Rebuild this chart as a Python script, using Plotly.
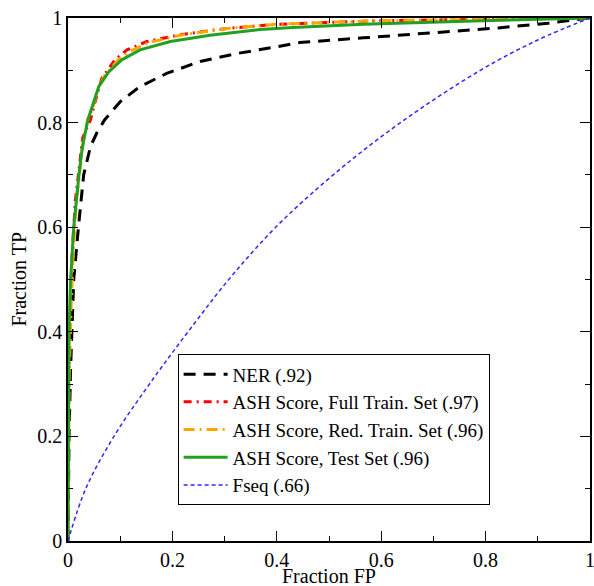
import plotly.graph_objects as go

# ---- data ----
ner_x = [0, 0.002, 0.005, 0.007, 0.011, 0.02, 0.03, 0.043, 0.055, 0.07, 0.1, 0.138, 0.189, 0.253, 0.323, 0.40, 0.444, 0.566, 0.695, 0.824, 0.92, 1.0]
ner_y = [0, 0.2, 0.33, 0.4, 0.5, 0.6, 0.7, 0.754, 0.78, 0.805, 0.84, 0.869, 0.894, 0.917, 0.932, 0.945, 0.953, 0.962, 0.972, 0.981, 0.99, 1.0]

full_x = [0, 0.001, 0.004, 0.008, 0.014, 0.022, 0.028, 0.036, 0.043, 0.052, 0.065, 0.09, 0.113, 0.151, 0.215, 0.304, 0.40, 0.6, 0.8, 1.0]
full_y = [0, 0.3, 0.45, 0.55, 0.65, 0.72, 0.77, 0.79, 0.805, 0.84, 0.885, 0.92, 0.939, 0.955, 0.968, 0.98, 0.988, 0.995, 0.998, 1.0]

red_x = [0, 0.002, 0.006, 0.01, 0.016, 0.024, 0.03, 0.039, 0.046, 0.055, 0.069, 0.096, 0.12, 0.155, 0.215, 0.304, 0.40, 0.6, 0.8, 1.0]
red_y = [0, 0.3, 0.45, 0.55, 0.65, 0.72, 0.77, 0.81, 0.824, 0.856, 0.888, 0.92, 0.937, 0.953, 0.967, 0.98, 0.988, 0.995, 0.998, 1.0]

test_x = [0, 0.0005, 0.002, 0.005, 0.011, 0.021, 0.027, 0.038, 0.048, 0.059, 0.078, 0.103, 0.138, 0.196, 0.272, 0.368, 0.431, 0.566, 0.76, 1.0]
test_y = [0, 0.25, 0.4, 0.5, 0.6, 0.7, 0.75, 0.805, 0.837, 0.869, 0.897, 0.92, 0.939, 0.955, 0.967, 0.978, 0.982, 0.988, 0.994, 1.0]

fseq_x = [0, 0.034, 0.088, 0.156, 0.23, 0.308, 0.398, 0.508, 0.637, 0.79, 0.9, 1.0]
fseq_y = [0, 0.1, 0.2, 0.3, 0.4, 0.5, 0.6, 0.7, 0.8, 0.9, 0.958, 1.0]

names = ["NER (.92)", "ASH Score, Full Train. Set (.97)", "ASH Score, Red. Train. Set (.96)",
         "ASH Score, Test Set (.96)", "Fseq (.66)"]

tick_vals = [0, 0.2, 0.4, 0.6, 0.8, 1.0]
tick_text = ["0", "0.2", "0.4", "0.6", "0.8", "1"]

x_title = "Fraction FP"
y_title = "Fraction TP"

FONT = "Liberation Serif, Times New Roman, serif"

fig = go.Figure()
fig.add_trace(go.Scatter(x=ner_x, y=ner_y, mode="lines", name=names[0],
                         line=dict(color="black", width=3, dash="12px,8px")))
fig.add_trace(go.Scatter(x=full_x, y=full_y, mode="lines", name=names[1],
                         line=dict(color="#ff0000", width=3, dash="8px,5px,2px,5px")))
fig.add_trace(go.Scatter(x=red_x, y=red_y, mode="lines", name=names[2],
                         line=dict(color="#ffa500", width=3, dash="11px,5px,2px,5px")))
fig.add_trace(go.Scatter(x=test_x, y=test_y, mode="lines", name=names[3],
                         line=dict(color="#22a022", width=3)))
fig.add_trace(go.Scatter(x=fseq_x, y=fseq_y, mode="lines", name=names[4], line_shape="spline",
                         line=dict(color="#2a2aff", width=1.5, dash="4px,3px")))

axis_common = dict(
    range=[0, 1], showgrid=False, zeroline=False, automargin=False,
    showline=True, linecolor="black", linewidth=1.5, mirror="ticks",
    ticks="inside", ticklen=10, tickwidth=1.3, tickcolor="black",
    tickvals=tick_vals, ticktext=tick_text, ticklabeloverflow="allow",
    minor=dict(ticks="inside", ticklen=5, tickwidth=1.2, tickcolor="black", dtick=0.1, showgrid=False),
    tickfont=dict(family=FONT, size=20, color="black"),
)

fig.update_xaxes(**axis_common)
fig.update_yaxes(**axis_common)

fig.update_layout(
    width=594, height=586,
    margin=dict(l=68, r=4, t=18, b=45),
    paper_bgcolor="white", plot_bgcolor="white",
    legend=dict(x=0.21, y=0.357, xanchor="left", yanchor="top",
                bgcolor="white", bordercolor="black", borderwidth=1,
                font=dict(family=FONT, size=19, color="black"),
                tracegroupgap=0, itemwidth=44),
    showlegend=True,
    annotations=[
        dict(text=x_title, xref="paper", yref="paper", x=0.5, y=-0.066,
             xanchor="center", yanchor="middle", showarrow=False,
             font=dict(family=FONT, size=20, color="black")),
        dict(text=y_title, xref="paper", yref="paper", x=-0.0956, y=0.5,
             xanchor="center", yanchor="middle", showarrow=False, textangle=-90,
             font=dict(family=FONT, size=20, color="black")),
    ],
)

fig.write_html("out.html", config={"displayModeBar": False},
               post_script="document.body.style.margin='0';document.body.style.overflow='hidden';")
